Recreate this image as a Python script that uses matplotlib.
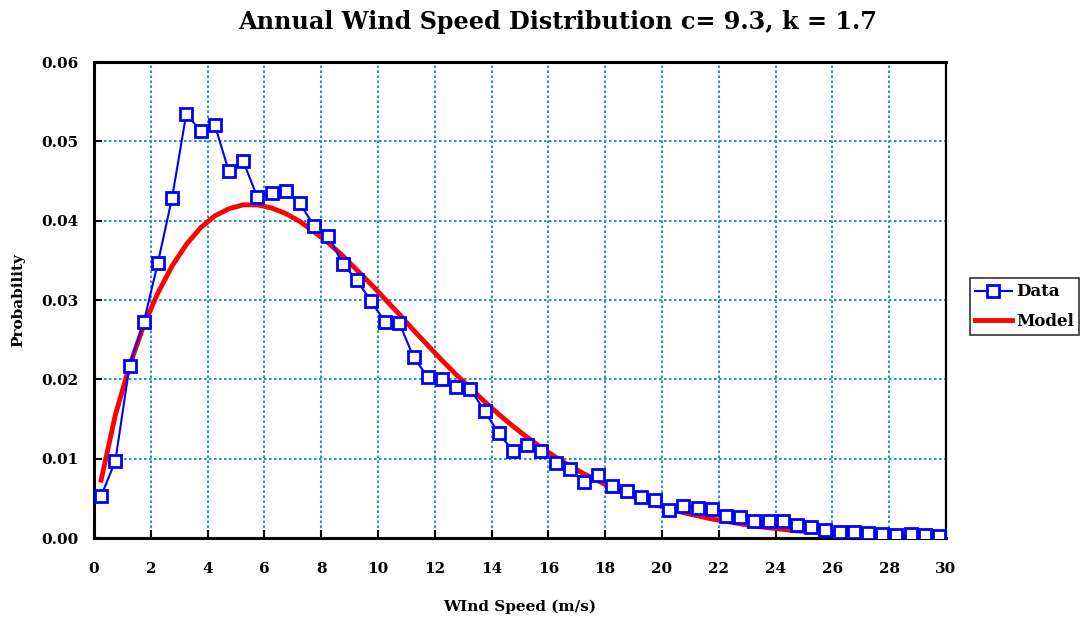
import numpy as np
import matplotlib
matplotlib.use('Agg')
import matplotlib.pyplot as plt

# ─── Data ────────────────────────────────────────────────────────────────────

wind_speed = np.arange(0.25, 30.0, 0.5)     # bin centres, m/s

data_prob = [
    0.0053, 0.0097, 0.0217, 0.0272, 0.0347, 0.0429, 0.0535, 0.0513, 0.0521, 0.0462,
    0.0475, 0.0430, 0.0435, 0.0438, 0.0422, 0.0393, 0.0381, 0.0346, 0.0325, 0.0299,
    0.0272, 0.0271, 0.0228, 0.0203, 0.0200, 0.0190, 0.0188, 0.0160, 0.0132, 0.0110,
    0.0117, 0.0110, 0.0094, 0.0087, 0.0071, 0.0079, 0.0066, 0.0059, 0.0052, 0.0048,
    0.0035, 0.0040, 0.0038, 0.0037, 0.0028, 0.0027, 0.0022, 0.0021, 0.0022, 0.0016,
    0.0014, 0.0010, 0.0008, 0.0008, 0.0006, 0.0005, 0.0004, 0.0005, 0.0004, 0.0003,
]

model_prob = [
    0.0073, 0.0155, 0.0217, 0.0268, 0.0309, 0.0343, 0.0370, 0.0391, 0.0406, 0.0415,
    0.0420, 0.0420, 0.0416, 0.0409, 0.0399, 0.0386, 0.0372, 0.0356, 0.0338, 0.0320,
    0.0301, 0.0282, 0.0262, 0.0243, 0.0224, 0.0206, 0.0189, 0.0172, 0.0156, 0.0141,
    0.0127, 0.0114, 0.0102, 0.0091, 0.0081, 0.0072, 0.0063, 0.0055, 0.0049, 0.0042,
    0.0037, 0.0032, 0.0028, 0.0024, 0.0021, 0.0018, 0.0015, 0.0013, 0.0011, 0.0009,
    0.0008, 0.0007, 0.0006, 0.0005, 0.0004, 0.0003, 0.0003, 0.0002, 0.0002, 0.0002,
]

x_ticks = np.arange(0, 31, 2)
y_ticks = [0.00, 0.01, 0.02, 0.03, 0.04, 0.05, 0.06]

# ─── Plot ────────────────────────────────────────────────────────────────────

plt.rcParams['font.family'] = ['DejaVu Serif']
plt.rcParams['font.weight'] = 'bold'

fig = plt.figure(figsize=(10.87, 6.22), dpi=100)
ax = fig.add_axes([0.0865, 0.135, 0.7838, 0.7653])

ax.plot(wind_speed, data_prob, color='#0000ff', lw=1.5, marker='s', ms=8,
        mfc='white', mec='#0000ff', mew=2, label='Data', zorder=3)
ax.plot(wind_speed, model_prob, color='#ff0000', lw=3.5, label='Model', zorder=2)

ax.set_xlim(0, 30)
ax.set_ylim(0, 0.06)
ax.set_xticks(x_ticks)
ax.set_yticks(y_ticks)
ax.set_yticklabels([f'{v:.2f}' for v in y_ticks])

ax.grid(True, color='#2b92d0', linestyle=(0, (1.2, 1.2)), linewidth=1.5)
ax.set_axisbelow(True)
for side in ['left', 'bottom', 'top']:
    ax.spines[side].set_linewidth(2.2)
ax.spines['right'].set_linewidth(1.6)

ax.tick_params(axis='both', direction='in', length=6, width=1.5, labelsize=11)
ax.tick_params(axis='x', pad=17)
ax.tick_params(axis='y', pad=11)

# title sits a bit right of the plot centre in the original
fig.text(0.513, 0.965, 'Annual Wind Speed Distribution c= 9.3, k = 1.7',
         fontsize=17.2, fontweight='bold', ha='center', va='center')
ax.set_xlabel('WInd Speed (m/s)', fontsize=11, fontweight='bold', labelpad=17)
ax.set_ylabel('Probability', fontsize=11, fontweight='bold', labelpad=12)

leg = ax.legend(loc='center left', bbox_to_anchor=(1.028, 0.486), fontsize=12,
                frameon=True, fancybox=False, edgecolor='black',
                handlelength=2.2, borderpad=0.3, labelspacing=0.75,
                handletextpad=0.3, borderaxespad=0)
leg.get_frame().set_linewidth(1.2)

plt.savefig('out.png', dpi=100)
